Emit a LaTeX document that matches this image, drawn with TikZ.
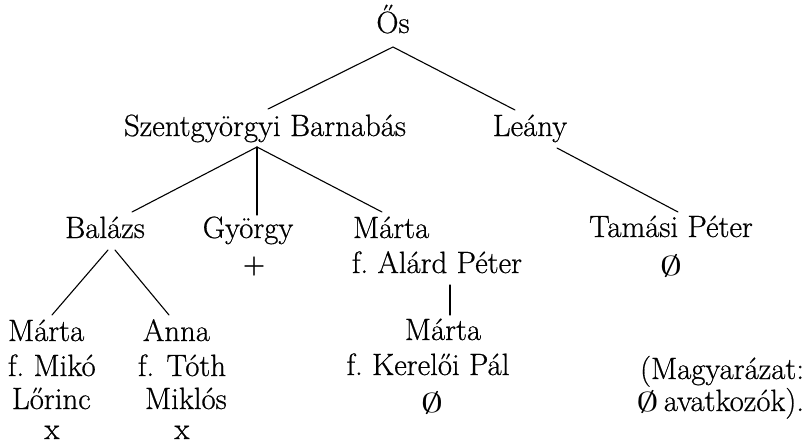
\documentclass[tikz,border=0pt]{standalone}
\usepackage{fontspec}
\setmainfont{Latin Modern Roman}[FakeBold=0.6]
\newcommand{\nullsym}{\scalebox{1.8}[1.1]{$\emptyset$}}
\begin{document}
\frenchspacing
\begin{tikzpicture}[x=1pt,y=-1pt,
  every node/.style={inner sep=0pt, outer sep=0pt, font=\fontsize{30.8}{36}\selectfont},
  lbl/.style={anchor=base},
  lblw/.style={anchor=base west},
  lble/.style={anchor=base east},
  sym/.style={anchor=center},
  edge/.style={line width=1.1pt, line cap=round}]
\useasboundingbox (0,0) rectangle (806,445);
% level 0
\node[lbl] (os) at (393,33) {Ős};
% level 1
\node[lbl] (szb) at (265,136) {Szentgyörgyi Barnabás};
\node[lbl] (leany) at (530,136) {Leány};
% level 2
\node[lbl] (balazs) at (105,238) {Balázs};
\node[lbl] (gyorgy) at (248,238) {György};
\node[sym] (gyplus) at (254,266) {+};
\node[lblw] (marta1) at (353,238) {Márta};
\node[lblw] (alard) at (352,273) {f. Alárd Péter};
\node[lbl] (tamasi) at (671,237) {Tamási Péter};
\node[sym] (tamnull) at (671,266) {\nullsym};
% level 3 left
\node[lblw] (marta2) at (8,341) {Márta};
\node[lblw] (miko) at (8,376) {f. Mikó};
\node[lblw] (lorinc) at (12,409) {Lőrinc};
\node[lbl] (x1) at (52,439) {x};
\node[lblw] (anna) at (143,341) {Anna};
\node[lblw] (toth) at (138,376) {f.\hspace{0.4em}Tóth};
\node[lblw] (miklos) at (145,409) {Miklós};
\node[lbl] (x2) at (182,439) {x};
% level 3 middle
\node[lbl] (marta3) at (443,340) {Márta};
\node[lbl] (kereloi) at (428,375) {f. Kerelői Pál};
\node[sym] (kernull) at (432,403) {\nullsym};
% legend
\node[lble] (magy) at (804,379) {(Magyarázat:};
\node[lble] (avat) at (804,411) {\nullsym\,avatkozók).};
% connector ends
\coordinate (osb) at (393,47);
\coordinate (szbt) at (268,109);
\coordinate (leanyt) at (515,110);
\coordinate (szbb) at (257,147);
\coordinate (balt) at (132,212);
\coordinate (gyt) at (257,215);
\coordinate (mat) at (382,212);
\coordinate (leanyb) at (557,148);
\coordinate (tamt) at (678,212);
\coordinate (balbl) at (108,250);
\coordinate (balbr) at (115,250);
\coordinate (m2t) at (52,315);
\coordinate (annat) at (169,315);
\coordinate (alardb) at (450,285);
\coordinate (m3t) at (450,315);
% connectors
\draw[edge] (osb) -- (szbt);
\draw[edge] (osb) -- (leanyt);
\draw[edge] (szbb) -- (balt);
\draw[edge] (szbb) -- (gyt);
\draw[edge] (szbb) -- (mat);
\draw[edge] (leanyb) -- (tamt);
\draw[edge] (balbl) -- (m2t);
\draw[edge] (balbr) -- (annat);
\draw[edge] (alardb) -- (m3t);
\end{tikzpicture}
\end{document}
